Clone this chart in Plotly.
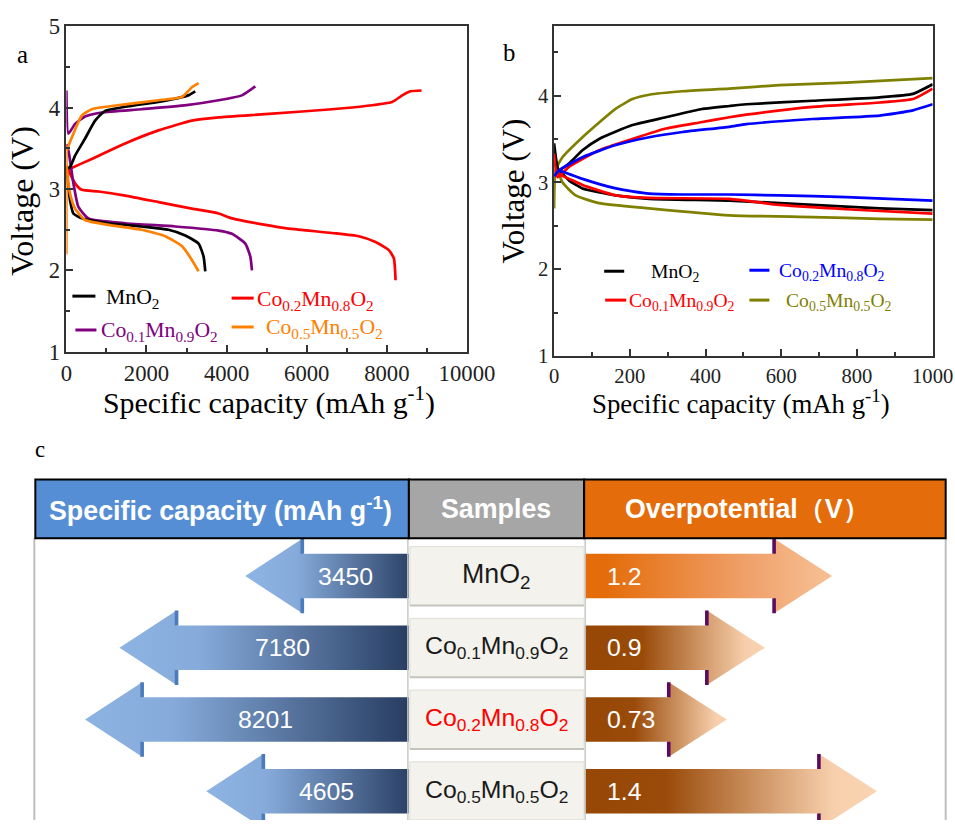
import plotly.graph_objects as go

# The photographed page shows CSS pixels slightly reduced (about 0.964 x 0.974) and the body keeps
# its default 8px margin.  All layout positions below are given in reference-image pixels and
# converted to figure (CSS) coordinates through these factors.
SX, SY, OFF, YC = 0.9637, 0.9737, 8, 0
W, H = 975, 833
FS = 2 / (SX + SY)                      # font / length scale (reference px -> CSS px)
def fx(p): return (p / SX - OFF) / W
def fy(p): return 1 - ((p - YC) / SY - OFF) / H
def fs(s): return round(s * FS, 1)

# ---------------- Panel a data (capacity mAh/g, voltage V) ----------------
a_mno2_chg_x = [0, 92, 217, 467, 717, 967, 1467, 2300, 2625, 3040, 3217]
a_mno2_chg_y = [3.25, 3.27, 3.41, 3.62, 3.84, 3.96, 4.01, 4.07, 4.10, 4.15, 4.20]
a_mno2_dis_x = [0, 92, 175, 383, 1050, 1883, 2550, 2967, 3300, 3425, 3467]
a_mno2_dis_y = [3.25, 2.86, 2.70, 2.64, 2.58, 2.54, 2.50, 2.43, 2.33, 2.17, 1.99]

a_co01_chg_x = [0, 50, 217, 467, 883, 1883, 3000, 3800, 4383, 4717]
a_co01_chg_y = [4.21, 3.68, 3.80, 3.89, 3.94, 3.98, 4.03, 4.09, 4.15, 4.26]
a_co01_dis_x = [0, 60, 175, 300, 550, 1467, 2717, 3800, 4133, 4467, 4592, 4633]
a_co01_dis_y = [3.55, 3.45, 3.07, 2.78, 2.64, 2.58, 2.54, 2.49, 2.45, 2.33, 2.17, 2.00]

a_co02_chg_x = [0, 92, 633, 1467, 2300, 3133, 3800, 4967, 6633, 7467, 8133, 8383, 8592, 8867]
a_co02_chg_y = [3.23, 3.25, 3.37, 3.56, 3.72, 3.84, 3.88, 3.92, 3.98, 4.02, 4.07, 4.15, 4.20, 4.21]
a_co02_dis_x = [0, 50, 217, 383, 800, 1467, 2300, 3133, 3800, 4133, 4967, 5467, 6633, 7300, 7717, 8050, 8175, 8217]
a_co02_dis_y = [3.28, 3.23, 3.07, 2.99, 2.97, 2.92, 2.84, 2.76, 2.70, 2.64, 2.56, 2.52, 2.46, 2.42, 2.35, 2.25, 2.15, 1.88]

a_co05_chg_x = [0, 0, 10, 175, 383, 633, 1467, 2300, 2883, 3133, 3300]
a_co05_chg_y = [2.20, 3.30, 3.47, 3.68, 3.90, 3.98, 4.04, 4.09, 4.13, 4.25, 4.30]
a_co05_dis_x = [0, 92, 217, 467, 1050, 1883, 2467, 2883, 3133, 3300]
a_co05_dis_y = [3.30, 2.94, 2.76, 2.62, 2.56, 2.50, 2.42, 2.30, 2.13, 1.99]

# ---------------- Panel b data ----------------
b_mno2_chg_x = [0, 13, 40, 75, 119, 207, 295, 384, 463, 507, 683, 860, 948, 1000]
b_mno2_chg_y = [3.45, 3.14, 3.22, 3.37, 3.50, 3.66, 3.75, 3.84, 3.88, 3.90, 3.94, 3.98, 4.02, 4.13]
b_mno2_dis_x = [13, 40, 75, 163, 251, 463, 683, 860, 1000]
b_mno2_dis_y = [3.14, 3.02, 2.93, 2.85, 2.81, 2.79, 2.74, 2.70, 2.68]

b_co01_chg_x = [0, 9, 40, 119, 207, 295, 384, 463, 507, 683, 860, 948, 1000]
b_co01_chg_y = [3.33, 3.06, 3.18, 3.37, 3.50, 3.62, 3.69, 3.75, 3.78, 3.87, 3.92, 3.96, 4.08]
b_co01_dis_x = [9, 40, 75, 163, 251, 463, 595, 772, 1000]
b_co01_dis_y = [3.10, 3.04, 2.97, 2.85, 2.82, 2.81, 2.74, 2.69, 2.64]

b_co02_chg_x = [0, 13, 75, 163, 251, 339, 463, 507, 683, 860, 948, 1000]
b_co02_chg_y = [3.07, 3.14, 3.29, 3.43, 3.52, 3.58, 3.64, 3.67, 3.73, 3.77, 3.83, 3.90]
b_co02_dis_x = [13, 75, 163, 251, 339, 463, 595, 772, 1000]
b_co02_dis_y = [3.14, 3.04, 2.93, 2.87, 2.86, 2.86, 2.85, 2.83, 2.79]

b_co05_chg_x = [0, 4, 22, 75, 119, 163, 207, 251, 339, 463, 595, 772, 1000]
b_co05_chg_y = [2.70, 3.14, 3.29, 3.52, 3.69, 3.85, 3.96, 4.01, 4.05, 4.08, 4.12, 4.15, 4.20]
b_co05_dis_x = [4, 22, 57, 119, 251, 463, 683, 860, 1000]
b_co05_dis_y = [3.22, 3.00, 2.85, 2.76, 2.70, 2.62, 2.60, 2.58, 2.57]

# ---------------- Panel c data ----------------
samples = ['MnO<sub>2</sub>',
           'Co<sub>0.1</sub>Mn<sub>0.9</sub>O<sub>2</sub>',
           'Co<sub>0.2</sub>Mn<sub>0.8</sub>O<sub>2</sub>',
           'Co<sub>0.5</sub>Mn<sub>0.5</sub>O<sub>2</sub>']
sample_colors = ['#1a1a1a', '#1a1a1a', '#ff0000', '#1a1a1a']
capacity = [3450, 7180, 8201, 4605]
overpotential = [1.2, 0.9, 0.73, 1.4]
a_xticks = [0, 2000, 4000, 6000, 8000, 10000]

SERIF = 'Liberation Serif, Times New Roman, serif'
SANS = 'Liberation Sans, Arial, sans-serif'

fig = go.Figure()

def add_curve(x, y, color, xa, ya, width=2.7):
    fig.add_trace(go.Scatter(x=x, y=y, mode='lines', xaxis=xa, yaxis=ya,
                             line=dict(color=color, width=width, shape='spline', smoothing=0.5),
                             hoverinfo='skip', showlegend=False))

A_COL = {'mno2': '#000000', 'co01': '#800080', 'co02': '#ff0000', 'co05': '#ff8000'}
add_curve(a_co02_chg_x, a_co02_chg_y, A_COL['co02'], 'x', 'y')
add_curve(a_co02_dis_x, a_co02_dis_y, A_COL['co02'], 'x', 'y')
add_curve(a_co01_chg_x, a_co01_chg_y, A_COL['co01'], 'x', 'y')
add_curve(a_co01_dis_x, a_co01_dis_y, A_COL['co01'], 'x', 'y')
add_curve(a_mno2_chg_x, a_mno2_chg_y, A_COL['mno2'], 'x', 'y')
add_curve(a_mno2_dis_x, a_mno2_dis_y, A_COL['mno2'], 'x', 'y')
add_curve(a_co05_chg_x, a_co05_chg_y, A_COL['co05'], 'x', 'y')
add_curve(a_co05_dis_x, a_co05_dis_y, A_COL['co05'], 'x', 'y')

B_COL = {'mno2': '#000000', 'co01': '#ff0000', 'co02': '#0000ff', 'co05': '#808000'}
add_curve(b_co05_chg_x, b_co05_chg_y, B_COL['co05'], 'x2', 'y2')
add_curve(b_co05_dis_x, b_co05_dis_y, B_COL['co05'], 'x2', 'y2')
add_curve(b_mno2_chg_x, b_mno2_chg_y, B_COL['mno2'], 'x2', 'y2')
add_curve(b_mno2_dis_x, b_mno2_dis_y, B_COL['mno2'], 'x2', 'y2')
add_curve(b_co01_chg_x, b_co01_chg_y, B_COL['co01'], 'x2', 'y2')
add_curve(b_co01_dis_x, b_co01_dis_y, B_COL['co01'], 'x2', 'y2')
add_curve(b_co02_chg_x, b_co02_chg_y, B_COL['co02'], 'x2', 'y2')
add_curve(b_co02_dis_x, b_co02_dis_y, B_COL['co02'], 'x2', 'y2')

# ---------------- Panel c (schematic arrows) ----------------
ROW0_PX, ROW_PX = 574, 72               # row centre pixel & spacing (reference px)
C_TOP_PX = 536
CAP_ZERO_PX, CAP_PPU = 362.7, 0.03366   # capacity arrow scale (ref px per mAh/g)
OVP_ZERO_PX, OVP_PPU = 564.1, 223.8     # overpotential arrow scale (ref px per V)
CAP_BASE = (CAP_ZERO_PX - 410) / CAP_PPU
OVP_BASE = (585 - OVP_ZERO_PX) / OVP_PPU
CAP_HEAD = 57 / CAP_PPU
OVP_HEAD = 58 / OVP_PPU
SH, HH = 0.31, 0.52
X_LEFT, X_RIGHT = OFF * SX, (OFF + W) * SX   # figure edges in reference px
Y_BOTTOM = (OFF + H) * SY + YC

blue_scale = [[0, '#8db3e2'], [0.25, '#86abdb'], [1, '#22365a']]
org1_scale = [[0, '#e46c0a'], [0.55, '#f0a06a'], [0.8, '#f5b98b'], [1, '#f8c9a2']]
brn_scale = [[0, '#974806'], [0.2, '#9a4b0a'], [0.75, '#f7cfac'], [1, '#fbd7b8']]

def arrow(base, tip, head, r, xa, cs, g0, g1, mark_color):
    hb = tip - head if tip > base else tip + head
    xs = [base, hb, hb, tip, hb, hb, base, base]
    ys = [r - SH, r - SH, r - HH, r, r + HH, r + SH, r + SH, r - SH]
    fig.add_trace(go.Scatter(x=xs, y=ys, mode='lines', fill='toself', xaxis=xa, yaxis='y3',
                             line=dict(width=0, color='rgba(0,0,0,0)'),
                             fillgradient=dict(type='horizontal', colorscale=cs, start=g0, stop=g1),
                             hoverinfo='skip', showlegend=False))
    fig.add_trace(go.Scatter(x=[hb, hb, None, hb, hb], y=[r - HH, r - SH, None, r + SH, r + HH],
                             mode='lines', xaxis=xa, yaxis='y3',
                             line=dict(width=3.6, color=mark_color),
                             hoverinfo='skip', showlegend=False))
    return hb

annotations = []
def ann(**kw):
    kw.setdefault('showarrow', False)
    kw.setdefault('xanchor', 'center')
    kw.setdefault('yanchor', 'middle')
    annotations.append(kw)

for i, v in enumerate(capacity):
    hb = arrow(CAP_BASE, v, CAP_HEAD, i, 'x3', blue_scale, v, CAP_BASE, '#4a7bbb')
    ann(x=(hb + CAP_BASE) / 2, y=i, xref='x3', yref='y3', text=str(v), xshift=-10,
        font=dict(family=SANS, size=fs(24), color='white'))
for i, v in enumerate(overpotential):
    cs = org1_scale if i == 0 else brn_scale
    arrow(OVP_BASE, v, OVP_HEAD, i, 'x4', cs, OVP_BASE, v, '#5c0a5e')
    ann(x=OVP_BASE, y=i, xref='x4', yref='y3', text=str(v), xanchor='left', xshift=21,
        font=dict(family=SANS, size=fs(24), color='white'))

shapes = []
for xp in (36, 946):
    shapes.append(dict(type='line', xref='paper', yref='paper', x0=fx(xp), x1=fx(xp),
                       y0=fy(C_TOP_PX), y1=0, line=dict(color='#bfbfbf', width=2)))
for xp in (409, 586):
    shapes.append(dict(type='line', xref='paper', yref='paper', x0=fx(xp), x1=fx(xp),
                       y0=fy(C_TOP_PX), y1=0, line=dict(color='#c8c8c8', width=1.5)))
for i, s in enumerate(samples):
    shapes.append(dict(type='rect', xref='paper', yref='y3', x0=fx(411), x1=fx(585),
                       y0=i - 0.41, y1=i + 0.41, fillcolor='#f3f2ec',
                       line=dict(color='#deddd6', width=1)))
    shapes.append(dict(type='line', xref='paper', yref='y3', x0=fx(411), x1=fx(585),
                       y0=i + 0.41, y1=i + 0.41, line=dict(color='#c4c4bc', width=2)))
    ann(x=fx(497), y=i, xref='paper', yref='y3', text=s,
        font=dict(family=SANS, size=fs(26 if i == 0 else 24), color=sample_colors[i]))
for x0, x1, col in ((37, 410, '#558ed5'), (410, 585, '#a6a6a6'), (585, 946, '#e46c0a')):
    shapes.append(dict(type='rect', xref='paper', yref='paper', x0=fx(x0), x1=fx(x1),
                       y0=fy(536), y1=fy(477), fillcolor=col, line=dict(color='#000000', width=2)))
for xc, txt in ((222, '<b>Specific capacity (mAh g<sup>-1</sup>)</b>'), (497, '<b>Samples</b>'),
                (748, '<b>Overpotential（V）</b>')):
    ann(x=fx(xc), y=fy(507), xref='paper', yref='paper', text=txt,
        font=dict(family=SANS, size=fs(26), color='white'))

def legend_item(x0, x1, yl, color, text, tx, size, tcolor):
    shapes.append(dict(type='line', xref='paper', yref='paper', x0=fx(x0), x1=fx(x1),
                       y0=fy(yl), y1=fy(yl), line=dict(color=color, width=3)))
    ann(x=fx(tx), y=fy(yl + 2), xref='paper', yref='paper', text=text, xanchor='left',
        font=dict(family=SERIF, size=fs(size), color=tcolor))

legend_item(74, 97, 293, A_COL['mno2'], samples[0], 106, 21, '#000000')
legend_item(233, 255, 295, A_COL['co02'], samples[2], 256, 21, A_COL['co02'])
legend_item(77, 98, 327, A_COL['co01'], samples[1], 101, 21, A_COL['co01'])
legend_item(233, 255, 324, A_COL['co05'], samples[3], 265, 21, A_COL['co05'])

legend_item(605, 625, 268, B_COL['mno2'], samples[0], 650, 19, '#000000')
legend_item(750, 770, 267, B_COL['co02'], samples[2], 778, 19, B_COL['co02'])
legend_item(606, 627, 297, B_COL['co01'], samples[1], 628, 19, B_COL['co01'])
legend_item(750, 770, 297, B_COL['co05'], samples[3], 785, 19, B_COL['co05'])

for xc, yc, t in ((24, 50, 'a'), (510, 48, 'b'), (42, 447, 'c')):
    ann(x=fx(xc), y=fy(yc), xref='paper', yref='paper', text=t,
        font=dict(family=SERIF, size=fs(24 if t != 'c' else 22), color='#000000'))
ann(x=fx(24), y=fy(197), xref='paper', yref='paper', text='Voltage (V)', textangle=-90,
    font=dict(family=SERIF, size=fs(31), color='#000'))
ann(x=fx(270), y=fy(398), xref='paper', yref='paper', text='Specific capacity (mAh g<sup>-1</sup>)',
    font=dict(family=SERIF, size=fs(29), color='#000'))
ann(x=fx(514), y=fy(188), xref='paper', yref='paper', text='Voltage (V)', textangle=-90,
    font=dict(family=SERIF, size=fs(30), color='#000'))
ann(x=fx(742), y=fy(399), xref='paper', yref='paper', text='Specific capacity (mAh g<sup>-1</sup>)',
    font=dict(family=SERIF, size=fs(26), color='#000'))

def ax_common(size):
    return dict(showline=True, linecolor='#333333', linewidth=1.5, mirror=True, ticks='inside',
                ticklen=7, tickwidth=1.5, tickcolor='#333333', showgrid=False, zeroline=False,
                ticklabeloverflow='allow',
                tickfont=dict(family=SERIF, size=fs(size), color='#222222'), fixedrange=True)

fig.update_layout(
    width=W, height=H, margin=dict(l=0, r=0, t=0, b=0),
    paper_bgcolor='white', plot_bgcolor='white', showlegend=False,
    xaxis=dict(domain=[fx(68), fx(468)], range=[0, 10000], anchor='y', tickvals=a_xticks,
               ticktext=[str(t) for t in a_xticks],
               minor=dict(ticks='inside', ticklen=4, dtick=1000, tick0=0, tickcolor='#333333'),
               ticklabelstandoff=0, **ax_common(22)),
    yaxis=dict(domain=[fy(349), fy(22)], range=[1, 5], anchor='x', dtick=1,
               minor=dict(ticks='inside', ticklen=4, dtick=0.5, tick0=1, tickcolor='#333333'),
               **ax_common(22)),
    xaxis2=dict(domain=[fx(555), fx(933)], range=[0, 1000], anchor='y2', dtick=200,
                minor=dict(ticks='inside', ticklen=4, dtick=100, tick0=0, tickcolor='#333333'),
                ticklabelstandoff=1, **ax_common(20)),
    yaxis2=dict(domain=[fy(353), fy(22)], range=[1, 4.8], anchor='x2', tickvals=[1, 2, 3, 4],
                minor=dict(ticks='inside', ticklen=4, tickvals=[1.5, 2.5, 3.5, 4.5], tickcolor='#333333'),
                **ax_common(20)),
    xaxis3=dict(domain=[0, 1], range=[(CAP_ZERO_PX - X_LEFT) / CAP_PPU, (CAP_ZERO_PX - X_RIGHT) / CAP_PPU],
                anchor='y3', visible=False, fixedrange=True),
    xaxis4=dict(domain=[0, 1], range=[(X_LEFT - OVP_ZERO_PX) / OVP_PPU, (X_RIGHT - OVP_ZERO_PX) / OVP_PPU],
                anchor='y3', overlaying='x3', visible=False, fixedrange=True),
    yaxis3=dict(domain=[0, fy(C_TOP_PX)],
                range=[(Y_BOTTOM - ROW0_PX) / ROW_PX, (C_TOP_PX - ROW0_PX) / ROW_PX],
                anchor='x3', visible=False, fixedrange=True),
    shapes=shapes, annotations=annotations,
)

fig.write_html('out.html', config={'displayModeBar': False})
